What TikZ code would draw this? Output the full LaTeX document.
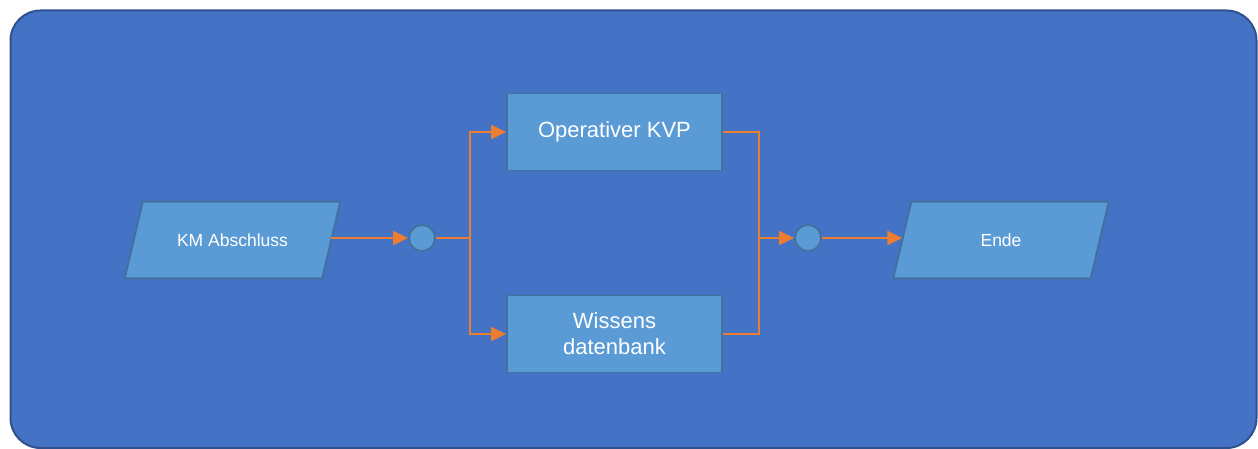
\documentclass[tikz,border=0pt]{standalone}
\usepackage{fontspec}
\setmainfont{Liberation Sans}
\usetikzlibrary{arrows.meta}
\definecolor{bgblue}{HTML}{4472C4}
\definecolor{bgedge}{HTML}{2F528F}
\definecolor{boxfill}{HTML}{5B9BD5}
\definecolor{boxedge}{HTML}{41719C}
\definecolor{flow}{HTML}{ED7D31}
\tikzset{
  x=1pt,y=1pt,
  ioframe/.style={rectangle, minimum width=197pt, minimum height=76pt, inner sep=0pt},
  iofill/.style={fill=boxfill, draw=boxedge, line width=1.8pt, line join=miter},
  iotext/.style={text=white, inner sep=0pt, font=\fontsize{17.5}{21}\selectfont},
  procbox/.style={rectangle, minimum width=215pt, minimum height=77pt,
    fill=boxfill, draw=boxedge, line width=1.8pt, text=white, align=center,
    inner sep=0pt, font=\fontsize{22}{26}\selectfont},
  joint/.style={circle, minimum size=26pt, inner sep=0pt, fill=boxfill, draw=boxedge, line width=1.8pt},
  conn/.style={draw=flow, line width=2pt},
  arr/.style={conn, -{Triangle[length=15pt,width=14pt]}}
}
\begin{document}
\begin{tikzpicture}
\useasboundingbox (0,0) rectangle (1258,-449);
\draw[fill=bgblue, draw=bgedge, line width=2pt, rounded corners=30pt] (10.5,-10.5) rectangle (1256.5,-448);
% parallelogram frames
\node[ioframe] (km) at (232.5,-240) {};
\draw[iofill] ([xshift=-9pt]km.south west) -- ([xshift=-9pt]km.south east)
  -- ([xshift=9pt]km.north east) -- ([xshift=9pt]km.north west) -- cycle;
\node[iotext] (kmt) at (km.center) {KM Abschluss};
\node[ioframe] (ende) at (1001,-240) {};
\draw[iofill] ([xshift=-9pt]ende.south west) -- ([xshift=-9pt]ende.south east)
  -- ([xshift=9pt]ende.north east) -- ([xshift=9pt]ende.north west) -- cycle;
\node[iotext] (endet) at (ende.center) {Ende};
% process boxes
\node[procbox] (op) at (614.5,-132) {Operativer KVP};
\node[procbox] (wi) at (614.5,-334) {Wissens\\datenbank};
\node[joint] (c1) at (422,-238) {};
\node[joint] (c2) at (808,-238) {};
\coordinate (j1) at (470,-238);
\coordinate (j2) at (759,-238);
\draw[arr] (km.east |- c1) -- (c1.west);
\draw[conn] (c1.east) -- (j1);
\draw[arr] (j1) |- (op.west);
\draw[arr] (j1) |- (wi.west);
\draw[conn] (op.east) -| (j2);
\draw[conn] (wi.east) -| (j2);
\draw[arr] (j2) -- (c2.west);
\draw[arr] (c2.east) -- (ende.west |- c2);
\end{tikzpicture}
\end{document}
